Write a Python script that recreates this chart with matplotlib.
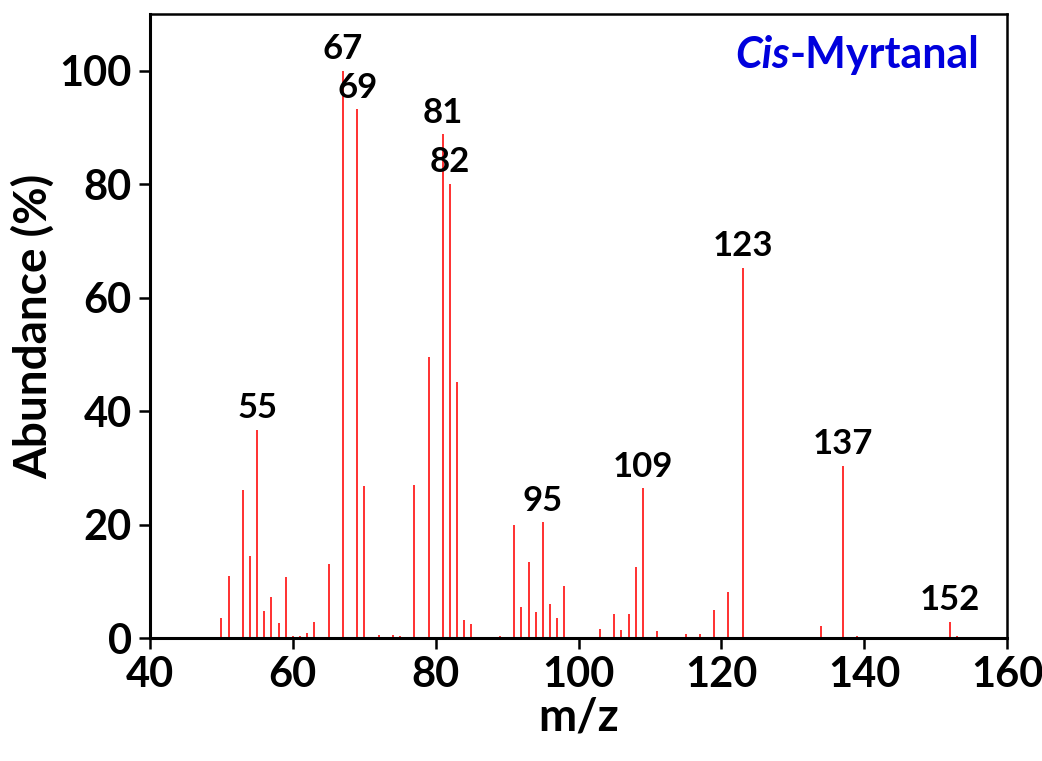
import matplotlib
matplotlib.use("Agg")
import matplotlib.pyplot as plt

# m/z values and relative abundances (%) of the spectrum
mz = [50, 51, 53, 54, 55, 56, 57, 58, 59, 60, 61, 62, 63, 65, 67, 69, 70,
      72, 74, 75, 77, 79, 81, 82, 83, 84, 85, 89, 91, 92, 93, 94, 95, 96,
      97, 98, 103, 105, 106, 107, 108, 109, 111, 115, 117, 119, 121, 123,
      134, 137, 139, 152, 153]
abundance = [3.5, 10.9, 26.1, 14.5, 36.7, 4.8, 7.2, 2.7, 10.7, 0.3, 0.4,
             0.8, 2.9, 13.0, 100.0, 93.2, 26.8, 0.5, 0.6, 0.4, 27.0, 49.6,
             88.8, 80.1, 45.1, 3.1, 2.5, 0.4, 20.0, 5.4, 13.4, 4.5, 20.4,
             6.0, 3.5, 9.1, 1.6, 4.2, 1.4, 4.2, 12.6, 26.4, 1.2, 0.65, 0.65,
             4.9, 8.1, 65.3, 2.1, 30.4, 0.4, 2.9, 0.4]

# peaks that get their m/z written above them
labelled_peaks = [55, 67, 69, 81, 82, 95, 109, 123, 137, 152]

x_ticks = [40, 60, 80, 100, 120, 140, 160]
y_ticks = [0, 20, 40, 60, 80, 100]

FONT = "Lato"
BLUE = "#0000dd"

fig = plt.figure(figsize=(10.42, 7.61), dpi=100)
ax = fig.add_axes([0.144, 0.1616, 0.8224, 0.82])

ax.vlines(mz, 0, abundance, colors="#ff2020", linewidth=1.3)

for m in labelled_peaks:
    h = abundance[mz.index(m)]
    ax.annotate(str(m), xy=(m, h), xytext=(0, 4), textcoords="offset points",
                ha="center", va="bottom", fontsize=25, fontweight="bold",
                family=FONT, color="black")

ax.set_xlim(40, 160)
ax.set_ylim(0, 110)
ax.set_xticks(x_ticks)
ax.set_yticks(y_ticks)
ax.set_xticklabels([str(t) for t in x_ticks], fontsize=30, fontweight="bold", family=FONT)
ax.set_yticklabels([str(t) for t in y_ticks], fontsize=30, fontweight="bold", family=FONT)
ax.tick_params(direction="out", length=8, width=1.8, pad=5)

for side in ["left", "bottom"]:
    ax.spines[side].set_linewidth(2.2)
for side in ["top", "right"]:
    ax.spines[side].set_linewidth(1.8)

ax.set_xlabel("m/z", fontsize=33, fontweight="bold", family=FONT, labelpad=2)
ax.set_ylabel("Abundance (%)", fontsize=33, fontweight="bold", family=FONT, labelpad=3)

# compound name: italic "Cis" followed by upright "-Myrtanal"
name = ax.text(0.968, 0.934, "-Myrtanal", transform=ax.transAxes, ha="right",
               va="center", fontsize=31, fontweight="bold", family=FONT,
               color=BLUE)
fig.canvas.draw()
bb = name.get_window_extent(renderer=fig.canvas.get_renderer())
x_left, _ = ax.transAxes.inverted().transform((bb.x0, bb.y0))
ax.text(x_left, 0.934, "Cis", transform=ax.transAxes, ha="right",
        va="center", fontsize=31, fontweight="bold", fontstyle="italic",
        family=FONT, color=BLUE)

fig.savefig("out.png", dpi=100)
